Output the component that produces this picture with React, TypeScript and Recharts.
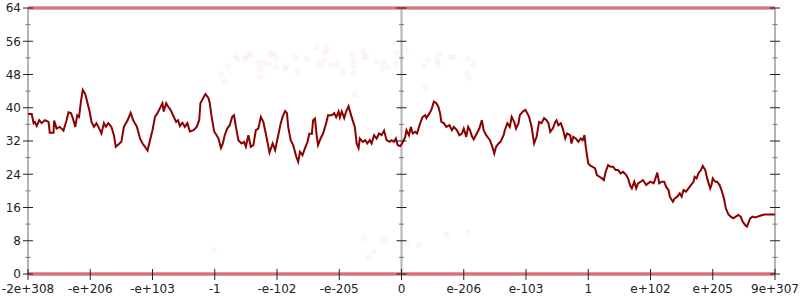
import { ComposedChart, Line, Scatter, XAxis, YAxis, ReferenceLine } from 'recharts';

const xTickLabels = [
  '-2e+308', '-e+206', '-e+103', '-1', '-e-102', '-e-205', '0',
  'e-206', 'e-103', '1', 'e+102', 'e+205', '9e+307',
];
const yTicks = [0, 8, 16, 24, 32, 40, 48, 56, 64];
const yMinorTicks = [4, 12, 20, 28, 36, 44, 52, 60];
// x positions (in tick units) where a vertical axis is drawn
const axisAt = [0, 6, 12];

// trace, x in tick units (0 = -2e+308 ... 12 = 9e+307)
const lineX = [
  0, 0.06, 0.09, 0.11, 0.14, 0.18, 0.22, 0.27, 0.33, 0.35,
  0.41, 0.42, 0.46, 0.51, 0.57, 0.62, 0.65, 0.69, 0.72, 0.76,
  0.79, 0.82, 0.85, 0.88, 0.92, 0.95, 0.99, 1.02, 1.06, 1.1,
  1.15, 1.18, 1.22, 1.25, 1.29, 1.34, 1.38, 1.41, 1.47, 1.5,
  1.54, 1.6, 1.65, 1.69, 1.75, 1.8, 1.84, 1.88, 1.92, 1.96,
  2.0, 2.04, 2.08, 2.12, 2.16, 2.18, 2.22, 2.25, 2.29, 2.33,
  2.38, 2.41, 2.44, 2.48, 2.52, 2.56, 2.6, 2.66, 2.71, 2.75,
  2.77, 2.82, 2.85, 2.9, 2.92, 2.95, 2.99, 3.03, 3.06, 3.1,
  3.13, 3.16, 3.2, 3.24, 3.28, 3.31, 3.34, 3.38, 3.43, 3.47,
  3.5, 3.54, 3.58, 3.62, 3.66, 3.7, 3.74, 3.78, 3.82, 3.88,
  3.93, 3.97, 4.02, 4.06, 4.09, 4.13, 4.16, 4.18, 4.22, 4.26,
  4.31, 4.34, 4.37, 4.41, 4.45, 4.49, 4.52, 4.56, 4.58, 4.61,
  4.64, 4.66, 4.7, 4.74, 4.79, 4.82, 4.88, 4.92, 4.95, 4.99,
  5.01, 5.04, 5.08, 5.11, 5.15, 5.18, 5.23, 5.25, 5.28, 5.31,
  5.33, 5.38, 5.42, 5.45, 5.49, 5.52, 5.56, 5.6, 5.64, 5.68,
  5.72, 5.76, 5.81, 5.84, 5.88, 5.91, 5.94, 5.98, 6.01, 6.06,
  6.08, 6.12, 6.15, 6.18, 6.22, 6.25, 6.3, 6.34, 6.38, 6.4,
  6.45, 6.48, 6.52, 6.56, 6.59, 6.62, 6.64, 6.68, 6.72, 6.77,
  6.81, 6.84, 6.89, 6.93, 6.97, 7.0, 7.04, 7.07, 7.1, 7.13,
  7.16, 7.21, 7.25, 7.29, 7.32, 7.36, 7.4, 7.42, 7.46, 7.49,
  7.52, 7.56, 7.59, 7.64, 7.66, 7.7, 7.74, 7.77, 7.81, 7.84,
  7.88, 7.9, 7.95, 7.99, 8.02, 8.05, 8.09, 8.13, 8.17, 8.21,
  8.25, 8.29, 8.33, 8.36, 8.39, 8.43, 8.47, 8.49, 8.52, 8.56,
  8.59, 8.63, 8.66, 8.71, 8.73, 8.76, 8.8, 8.84, 8.88, 8.91,
  8.94, 8.96, 9.0, 9.04, 9.07, 9.11, 9.14, 9.18, 9.22, 9.25,
  9.28, 9.32, 9.36, 9.4, 9.44, 9.48, 9.52, 9.56, 9.61, 9.64,
  9.67, 9.7, 9.74, 9.77, 9.8, 9.84, 9.88, 9.93, 9.96, 10.0,
  10.05, 10.07, 10.11, 10.14, 10.18, 10.22, 10.25, 10.29, 10.31, 10.36,
  10.39, 10.43, 10.47, 10.5, 10.53, 10.57, 10.61, 10.65, 10.69, 10.71,
  10.74, 10.77, 10.81, 10.84, 10.88, 10.91, 10.96, 10.98, 11.0, 11.04,
  11.07, 11.11, 11.14, 11.18, 11.21, 11.25, 11.29, 11.33, 11.37, 11.41,
  11.45, 11.48, 11.52, 11.55, 11.57, 11.6, 11.64, 11.68, 11.72, 11.76,
  11.8, 11.84, 11.89, 12.0,
];
const lineY = [
  38.5, 38.5, 36.3, 36.6, 35.6, 37.0, 36.3, 37.0, 36.6, 34.0,
  34.0, 36.9, 35.0, 35.4, 34.5, 37.0, 38.9, 38.7, 37.5, 35.4,
  38.2, 37.8, 41.5, 44.3, 43.3, 41.5, 39.1, 36.6, 35.4, 36.3,
  34.8, 33.8, 36.3, 35.4, 36.3, 35.4, 33.4, 30.6, 31.4, 31.8,
  35.4, 37.0, 38.8, 37.0, 35.4, 32.6, 31.4, 30.6, 29.7, 32.2,
  34.6, 37.8, 38.7, 39.9, 41.1, 39.1, 41.1, 40.3, 39.5, 38.2,
  36.6, 37.0, 35.6, 36.4, 35.4, 36.3, 34.3, 34.6, 35.4, 37.0,
  41.1, 42.5, 43.3, 42.3, 41.1, 37.8, 34.3, 33.4, 32.6, 30.3,
  31.4, 33.4, 35.0, 35.8, 37.8, 38.2, 35.4, 32.2, 31.4, 31.8,
  30.6, 33.4, 30.6, 31.0, 34.6, 35.0, 37.8, 36.6, 33.8, 29.2,
  31.4, 29.8, 33.4, 36.3, 37.8, 39.2, 38.7, 35.4, 32.2, 31.0,
  28.2, 27.0, 29.4, 28.6, 30.3, 31.8, 33.8, 33.7, 37.0, 37.4,
  33.0, 31.0, 32.6, 33.8, 36.3, 38.2, 38.2, 38.7, 37.7, 39.1,
  37.7, 39.1, 37.5, 39.1, 40.4, 38.7, 36.3, 35.4, 31.4, 30.3,
  32.6, 31.8, 32.2, 31.4, 32.2, 31.4, 33.4, 32.6, 33.8, 33.4,
  34.5, 32.2, 31.8, 32.2, 31.8, 32.6, 31.0, 30.8, 31.4, 33.0,
  34.6, 33.4, 35.4, 33.8, 34.2, 33.8, 36.3, 37.8, 38.2, 37.5,
  38.7, 39.5, 41.5, 41.1, 40.3, 38.7, 36.6, 36.3, 35.4, 35.8,
  34.6, 35.4, 34.6, 33.4, 33.8, 35.0, 33.0, 35.4, 34.6, 33.2,
  32.4, 33.8, 35.0, 37.0, 34.6, 33.4, 32.6, 32.2, 30.6, 29.0,
  30.6, 31.4, 31.8, 33.4, 34.6, 36.3, 35.4, 37.8, 36.6, 35.0,
  36.3, 38.2, 39.1, 39.5, 38.7, 37.8, 35.4, 31.4, 33.0, 36.6,
  36.3, 37.5, 37.0, 36.3, 34.2, 35.0, 36.6, 37.0, 35.8, 36.3,
  35.0, 32.6, 33.8, 33.4, 31.4, 33.0, 32.6, 31.8, 32.6, 32.2,
  33.4, 30.6, 26.6, 26.0, 25.8, 25.4, 23.8, 23.4, 23.0, 22.6,
  24.6, 26.2, 25.8, 25.8, 25.0, 25.0, 24.2, 24.6, 23.8, 23.0,
  21.4, 20.6, 22.2, 20.6, 21.8, 22.2, 22.6, 21.4, 21.8, 22.2,
  21.8, 22.6, 24.4, 21.8, 22.2, 22.2, 21.0, 20.2, 18.6, 17.4,
  18.2, 18.6, 19.4, 18.6, 20.2, 19.8, 20.6, 21.4, 22.2, 23.4,
  23.0, 24.2, 25.0, 26.0, 25.0, 23.0, 20.6, 21.4, 23.0, 22.2,
  22.2, 21.4, 20.2, 18.2, 15.8, 14.4, 13.8, 13.4, 13.8, 14.2,
  13.8, 12.6, 11.8, 11.4, 12.2, 13.4, 13.8, 13.6, 13.8, 14.0,
  14.2, 14.3, 14.3, 14.3,
];

// barely visible stray points
const faintX = [
  3.1, 3.16, 3.22, 3.33, 3.36, 3.49, 3.51, 3.57, 3.7, 3.73,
  3.72, 3.78, 3.86, 3.89, 3.95, 3.98, 3.98, 4.13, 4.17, 4.29,
  4.32, 4.47, 4.64, 4.7, 4.77, 4.8, 4.76, 4.87, 4.98, 5.07,
  5.22, 5.24, 5.22, 5.24, 5.38, 5.4, 5.44, 5.59, 5.7, 5.68,
  5.78, 5.9, 5.92, 6.07, 6.36, 6.42, 6.57, 6.61, 6.59, 6.79,
  6.84, 7.07, 7.15, 7.05, 7.09, 6.38, 5.25,
  5.39, 5.71, 5.55, 5.47, 6.08, 6.27, 6.73, 7.07, 2.99,
];
const faintY = [
  48.1, 46.3, 50.0, 52.5, 51.7, 51.7, 52.5, 52.9, 50.7, 49.3,
  47.5, 50.9, 50.5, 52.9, 53.2, 52.1, 49.7, 49.3, 50.1, 52.1,
  48.8, 51.7, 54.5, 50.5, 53.3, 54.3, 51.3, 50.3, 50.5, 48.8,
  52.9, 51.3, 50.1, 48.3, 53.7, 52.3, 52.3, 51.1, 50.8, 49.3,
  49.7, 50.5, 53.1, 53.9, 50.0, 51.5, 51.5, 53.1, 50.4, 52.3,
  52.1, 51.7, 50.3, 48.4, 47.2, 44.9, 43.1,
  8.6, 8.2, 5.4, 4.0, 7.4, 7.0, 9.4, 10.0, 5.8,
];

const trace = lineX.map((x, i) => ({ x, y: lineY[i] }));
const faint = faintX.map((x, i) => ({ x, y: faintY[i] }));
const majorMarks = axisAt.flatMap((x) => yTicks.map((y) => ({ x, y })));
const minorMarks = axisAt.flatMap((x) => yMinorTicks.map((y) => ({ x, y })));
const xMarks = xTickLabels.map((_, i) => ({ x: i, y: 0 }));

const hMark = (half: number, color: string) => (p: any) => (
  <line x1={p.cx - half} x2={p.cx + half} y1={p.cy} y2={p.cy} stroke={color} strokeWidth={1} />
);
const vMark = (p: any) => (
  <line x1={p.cx} x2={p.cx} y1={p.cy - 5} y2={p.cy + 6} stroke="#222" strokeWidth={1} />
);
const ring = (p: any) => (
  <circle cx={p.cx} cy={p.cy} r={2.5} fill="#e03040" fillOpacity={0.03} stroke="#e03040" strokeOpacity={0.06} strokeWidth={1} />
);

const font = { fontFamily: 'DejaVu Sans', fontSize: 12, fill: '#222' };
const axisGray = '#b4b4b4';
const band = '#e0404a';

export default function App() {
  return (
    <div style={{ position: 'absolute', left: 0, top: 0, width: 800, height: 300, background: '#fff' }}>
      <ComposedChart width={800} height={300} margin={{ top: 8, right: 25, bottom: 0, left: 0 }}>
        <XAxis
          type="number"
          dataKey="x"
          domain={[0, 12]}
          ticks={xTickLabels.map((_, i) => i)}
          tickFormatter={(v: number) => xTickLabels[v]}
          interval={0}
          height={26}
          tickSize={6}
          tickMargin={4}
          tickLine={false}
          axisLine={false}
          tick={font}
        />
        <YAxis
          type="number"
          dataKey="y"
          domain={[0, 64]}
          ticks={yTicks}
          interval={0}
          width={28}
          tickSize={5}
          tickMargin={2}
          tickLine={false}
          axisLine={false}
          tick={font}
        />
        {axisAt.map((x) => (
          <ReferenceLine key={'ax' + x} x={x} stroke={axisGray} strokeWidth={2} />
        ))}
        <ReferenceLine y={64} stroke={axisGray} strokeWidth={2} />
        <ReferenceLine y={0} stroke={axisGray} strokeWidth={2} />
        <ReferenceLine y={64} stroke={band} strokeOpacity={0.5} strokeWidth={4} />
        <ReferenceLine y={0} stroke={band} strokeOpacity={0.55} strokeWidth={4} />
        <Scatter data={faint} shape={ring} isAnimationActive={false} />
        <Scatter data={minorMarks} shape={hMark(2.5, '#777')} isAnimationActive={false} />
        <Scatter data={majorMarks} shape={hMark(5, '#222')} isAnimationActive={false} />
        <Scatter data={xMarks} shape={vMark} isAnimationActive={false} />
        <Line
          data={trace}
          dataKey="y"
          type="linear"
          stroke="#8b0000"
          strokeWidth={2}
          dot={false}
          isAnimationActive={false}
        />
      </ComposedChart>
    </div>
  );
}
